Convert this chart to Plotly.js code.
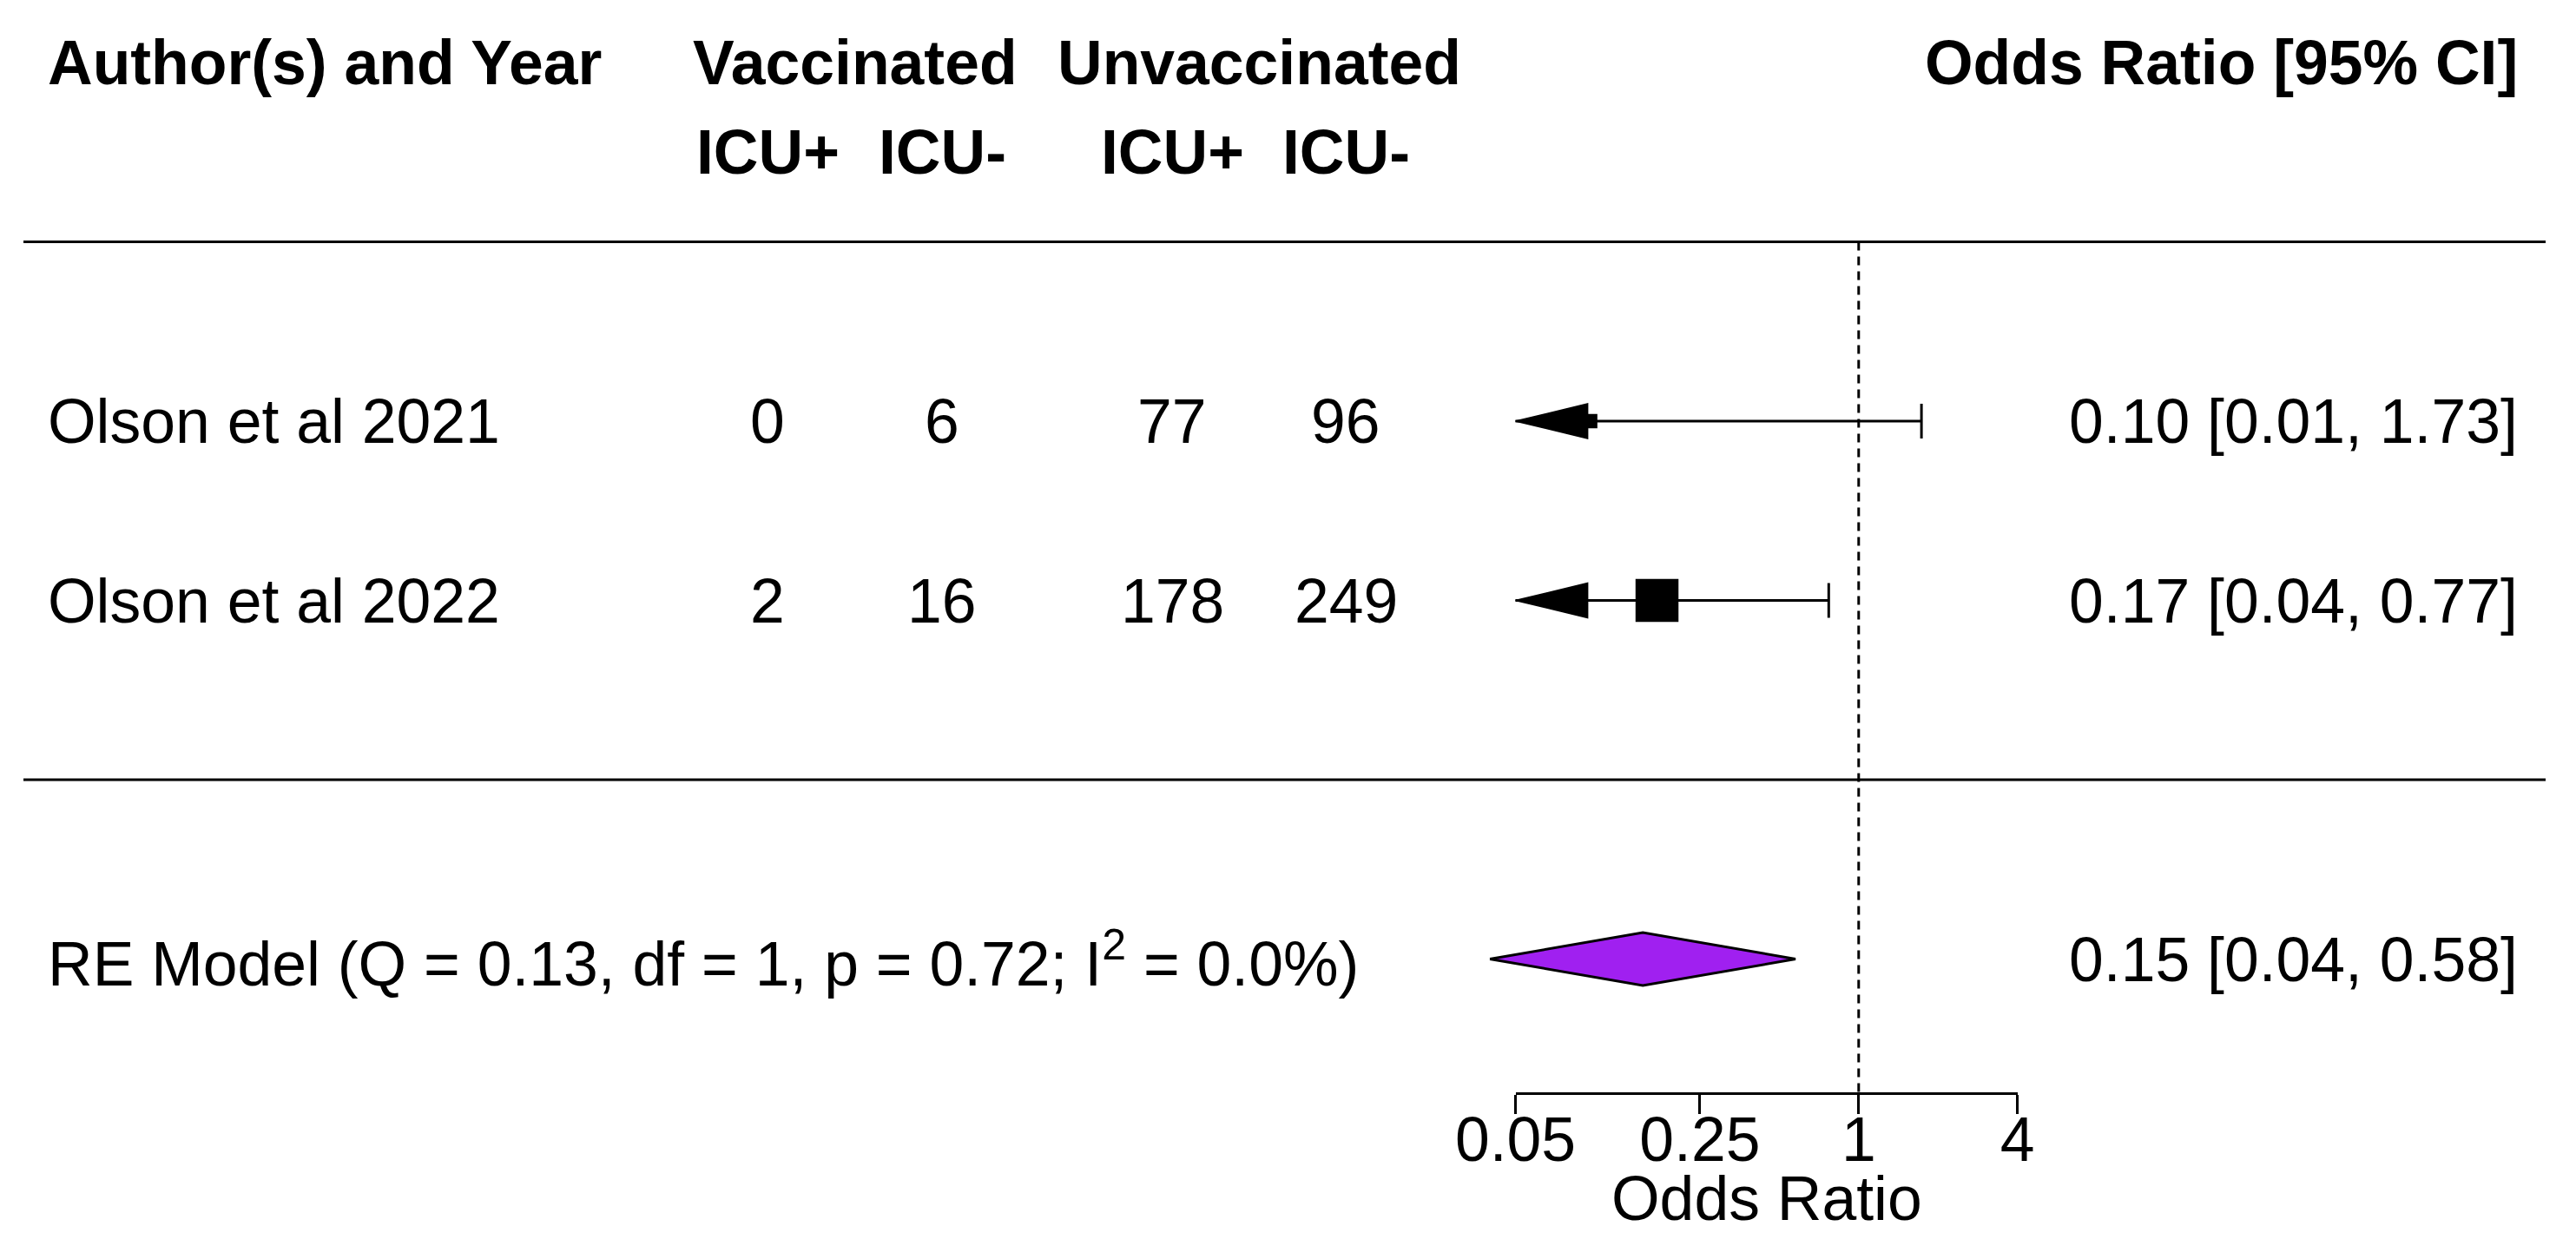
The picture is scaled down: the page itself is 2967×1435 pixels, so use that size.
<!DOCTYPE html>
<html>
<head>
<meta charset="utf-8">
<script src="https://cdn.plot.ly/plotly-3.0.1.min.js"></script>
<style>html,body{margin:0;padding:0;background:#ffffff;}</style>
</head>
<body>
<div id="chart" style="width:2967px;height:1435px;"></div>
<script>
// ---------------- data ----------------
const studies    = ["Olson et al 2021", "Olson et al 2022"];
const vacIcuPos  = [0, 2];
const vacIcuNeg  = [6, 16];
const unvIcuPos  = [77, 178];
const unvIcuNeg  = [96, 249];
const orEst      = [0.096, 0.172];
const ciLower    = [0.01, 0.04];
const ciUpper    = [1.73, 0.77];
const summaryEst   = [0.152];
const summaryLower = [0.040];
const summaryUpper = [0.576];
const summaryStats = {Q: "0.13", df: "1", p: "0.72", I2: "0.0"};
const tickVals   = [0.05, 0.25, 1, 4];
const tickLabels = ["0.05", "0.25", "1", "4"];
const headerCols = ["ICU+", "ICU-", "ICU+", "ICU-"];
const groupHeads = ["Vaccinated", "Unvaccinated"];

// ---------------- layout / style constants ----------------
const W = 2967, H = 1435;
const FONT = "Liberation Sans, Arial, Helvetica, sans-serif";
const FS = 71.5;
const alim = [tickVals[0], tickVals[tickVals.length - 1]];
const PX_ALIM0 = 1745.5;      // pixel of lower axis limit
const PX_PER_LN = 131.95;     // pixels per natural-log unit
const PLOT_BOTTOM = 1258;     // pixel of axis line
const ROW_TOP_PX = 485;       // pixel of first study row
const PX_PER_ROW = 206.5;
const k = studies.length;
const rows = studies.map((_, i) => k - i);     // k ... 1
const summaryRow = -1;

const lnToPx = ln => PX_ALIM0 + PX_PER_LN * (ln - Math.log(alim[0]));
const pxToLog10 = px => (Math.log(alim[0]) + (px - PX_ALIM0) / PX_PER_LN) / Math.LN10;
const xRange = [pxToLog10(0), pxToLog10(W)];
const yTop = k + ROW_TOP_PX / PX_PER_ROW;
const yBot = k - (PLOT_BOTTOM - ROW_TOP_PX) / PX_PER_ROW;

const CAP_H = 20 / PX_PER_ROW;       // half height of whisker / arrow
const ARROW_LN = 0.63;               // arrow length in ln units
const DIA_H = 30.5 / PX_PER_ROW;     // half height of diamond
const LW = 3;

// square sizes scaled from inverse-variance weights (metafor style, plim 0.5..1.5)
const weights = studies.map((_, i) => {
  let a = vacIcuPos[i], b = vacIcuNeg[i], c = unvIcuPos[i], d = unvIcuNeg[i];
  if ([a, b, c, d].some(v => v === 0)) { a += .5; b += .5; c += .5; d += .5; }
  return 1 / (1 / a + 1 / b + 1 / c + 1 / d);
});
const wMin = Math.min(...weights), wMax = Math.max(...weights);
const psize = weights.map(w => 0.5 + (wMax > wMin ? (w - wMin) / (wMax - wMin) : 0.5));
const SQ_BASE = 33;

// ---------------- traces ----------------
const traces = [];
const segX = [], segY = [];
const capX = [], capY = [];
rows.forEach((r, i) => {
  const lo = Math.max(ciLower[i], alim[0]), hi = Math.min(ciUpper[i], alim[1]);
  segX.push(lo, hi, null); segY.push(r, r, null);
  if (ciUpper[i] <= alim[1]) { capX.push(ciUpper[i], ciUpper[i], null); capY.push(r - CAP_H, r + CAP_H, null); }
  if (ciLower[i] >= alim[0]) { capX.push(ciLower[i], ciLower[i], null); capY.push(r - CAP_H, r + CAP_H, null); }
});
traces.push({type: "scatter", mode: "lines", x: segX, y: segY, xaxis: "x", yaxis: "y",
  line: {color: "#000", width: LW}, hoverinfo: "skip", connectgaps: false});
traces.push({type: "scatter", mode: "lines", x: capX, y: capY, xaxis: "x", yaxis: "y",
  line: {color: "#000", width: LW}, hoverinfo: "skip", connectgaps: false});
// arrows for CIs beyond the axis limits
rows.forEach((r, i) => {
  if (ciLower[i] < alim[0]) {
    const base = alim[0] * Math.exp(ARROW_LN);
    traces.push({type: "scatter", mode: "lines", fill: "toself", fillcolor: "#000",
      x: [alim[0], base, base, alim[0]], y: [r, r + CAP_H, r - CAP_H, r],
      line: {color: "#000", width: 1.5}, hoverinfo: "skip"});
  }
  if (ciUpper[i] > alim[1]) {
    const base = alim[1] / Math.exp(ARROW_LN);
    traces.push({type: "scatter", mode: "lines", fill: "toself", fillcolor: "#000",
      x: [alim[1], base, base, alim[1]], y: [r, r + CAP_H, r - CAP_H, r],
      line: {color: "#000", width: 1.5}, hoverinfo: "skip"});
  }
});
// point estimates
traces.push({type: "scatter", mode: "markers", x: orEst, y: rows,
  marker: {symbol: "square", color: "#000", opacity: 1, size: psize.map(p => p * SQ_BASE), line: {width: 0}},
  hoverinfo: "skip"});
// summary diamond
traces.push({type: "scatter", mode: "lines", fill: "toself", fillcolor: "#A020F0",
  x: [summaryLower[0], summaryEst[0], summaryUpper[0], summaryEst[0], summaryLower[0]],
  y: [summaryRow, summaryRow + DIA_H, summaryRow, summaryRow - DIA_H, summaryRow],
  line: {color: "#000", width: LW}, hoverinfo: "skip"});
// reference line at OR = 1 (on the tick axis)
traces.push({type: "scatter", mode: "lines", x: [1, 1], y: [k + 1, yBot], xaxis: "x2", yaxis: "y",
  line: {color: "#000", width: LW, dash: "10px,7px"}, hoverinfo: "skip"});

// ---------------- annotations ----------------
const ann = [];
function txt(text, xpx, y, anchor, opts = {}) {
  ann.push(Object.assign({text, x: xpx / W, xref: "paper", y, yref: "y", xanchor: anchor,
    yanchor: "middle", showarrow: false, font: {family: FONT, size: FS, color: "#000"}}, opts));
}
const LEFT_X = 53, RIGHT_X = 2902;
const COLS = [884, 1085, 1350, 1550];
const GROUP_X = [(COLS[0] + COLS[1]) / 2, (COLS[2] + COLS[3]) / 2];
const fmt = v => v.toFixed(2);

txt("<b>Author(s) and Year</b>", LEFT_X, k + 2, "left");
txt("<b>Odds Ratio [95% CI]</b>", RIGHT_X, k + 2, "right");
groupHeads.forEach((g, j) => txt("<b>" + g + "</b>", GROUP_X[j], k + 2, "center"));
headerCols.forEach((h, j) => txt("<b>" + h + "</b>", COLS[j], k + 1.5, "center"));

rows.forEach((r, i) => {
  txt(studies[i], LEFT_X, r, "left");
  [vacIcuPos[i], vacIcuNeg[i], unvIcuPos[i], unvIcuNeg[i]].forEach((v, j) => txt(String(v), COLS[j], r, "center"));
  txt(`${fmt(orEst[i])} [${fmt(ciLower[i])}, ${fmt(ciUpper[i])}]`, RIGHT_X, r, "right");
});
txt(`RE Model (Q = ${summaryStats.Q}, df = ${summaryStats.df}, p = ${summaryStats.p}; I<sup>2</sup> = ${summaryStats.I2}%)`,
    LEFT_X, summaryRow, "left");
txt(`${fmt(summaryEst[0])} [${fmt(summaryLower[0])}, ${fmt(summaryUpper[0])}]`, RIGHT_X, summaryRow, "right");
// axis title
ann.push({text: "Odds Ratio", x: (lnToPx(Math.log(alim[0])) + lnToPx(Math.log(alim[1]))) / 2 / W, xref: "paper",
  y: (PLOT_BOTTOM - 1380) / PLOT_BOTTOM, yref: "paper", xanchor: "center", yanchor: "middle",
  showarrow: false, font: {family: FONT, size: FS, color: "#000"}});

// ---------------- shapes (table rules) ----------------
const shapes = [k + 1, 0].map(y => ({type: "line", xref: "paper", yref: "y",
  x0: 27 / W, x1: 2932 / W, y0: y, y1: y, line: {color: "#000", width: LW}}));

const d0 = lnToPx(Math.log(alim[0])) / W, d1 = lnToPx(Math.log(alim[1])) / W;
const layout = {
  width: W, height: H,
  margin: {l: 0, r: 0, t: 0, b: H - PLOT_BOTTOM, pad: 0},
  paper_bgcolor: "#fff", plot_bgcolor: "rgba(0,0,0,0)",
  showlegend: false,
  xaxis: {type: "log", range: xRange, domain: [0, 1], visible: false, fixedrange: true},
  xaxis2: {type: "log", range: [Math.log10(alim[0]), Math.log10(alim[1])], domain: [d0, d1], anchor: "y",
    showline: true, linecolor: "#000", linewidth: LW, ticks: "outside", ticklen: 22, tickwidth: LW,
    tickcolor: "#000", tickvals: tickVals, ticktext: tickLabels, showgrid: false, zeroline: false,
    ticklabelstandoff: -32,
    tickfont: {family: FONT, size: FS, color: "#000"}, fixedrange: true},
  yaxis: {range: [yBot, yTop], domain: [0, 1], visible: false, fixedrange: true},
  annotations: ann,
  shapes: shapes
};
Plotly.newPlot("chart", traces, layout, {displayModeBar: false, staticPlot: true});
</script>
</body>
</html>
